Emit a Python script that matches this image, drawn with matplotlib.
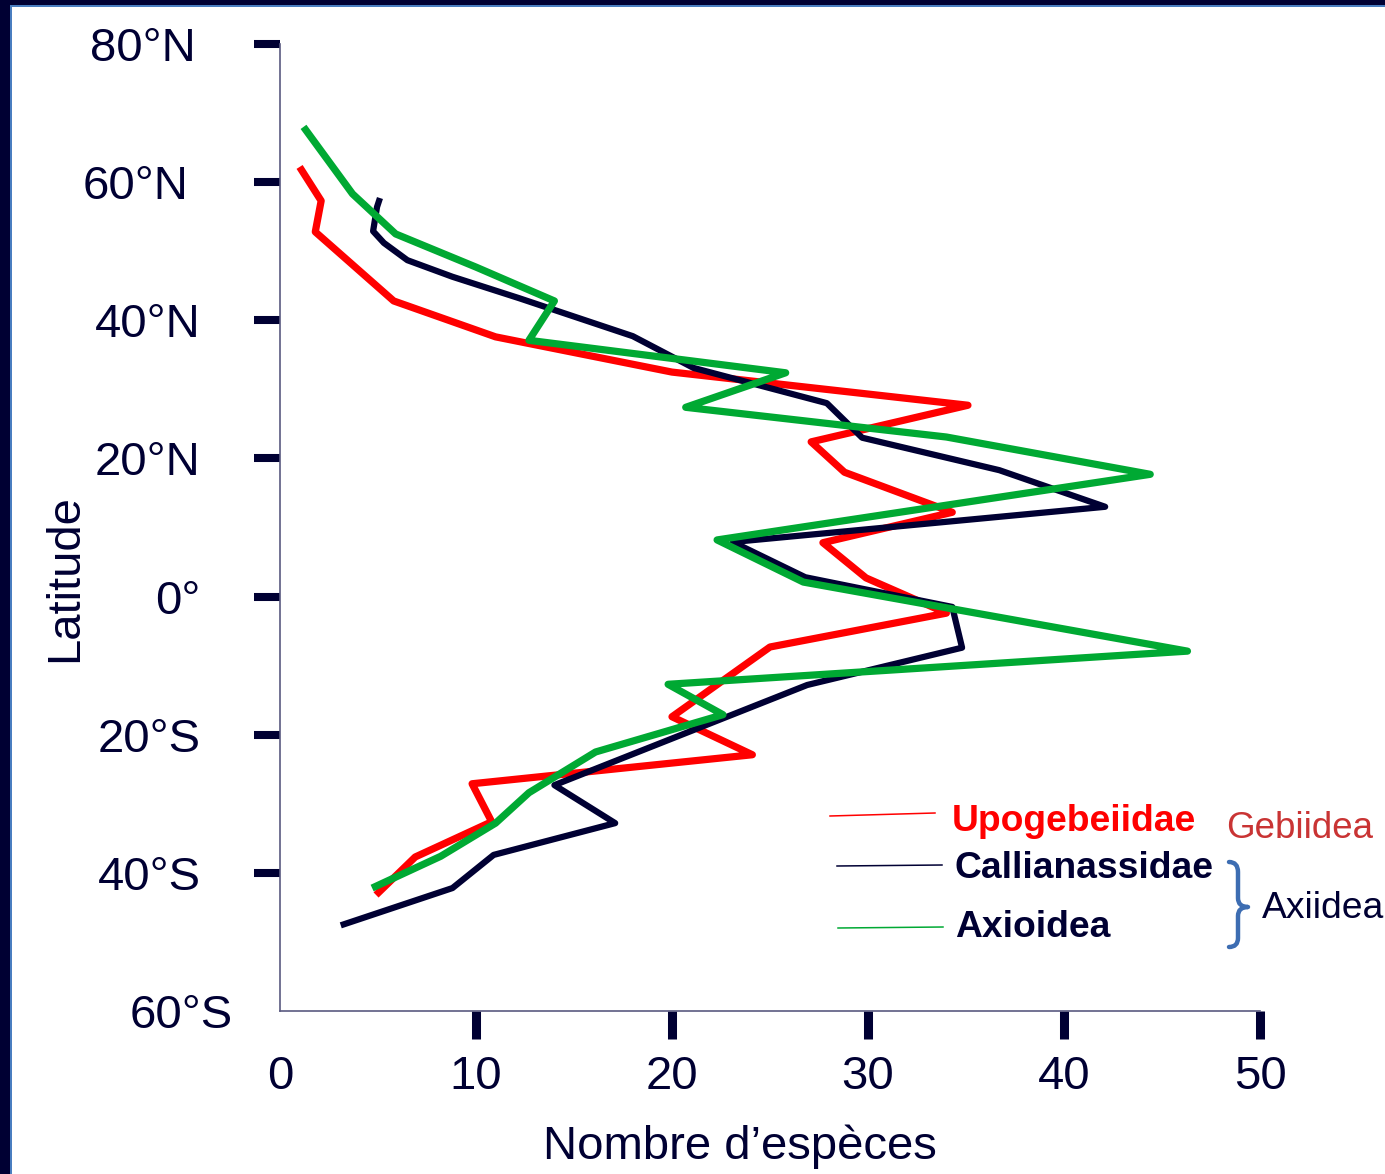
import matplotlib
matplotlib.use("Agg")
import matplotlib.pyplot as plt
from matplotlib.path import Path
from matplotlib.patches import PathPatch, Rectangle
from matplotlib.lines import Line2D
from matplotlib.transforms import ScaledTranslation

plt.rcParams['font.family'] = ['Liberation Sans', 'DejaVu Sans']

# Species counts per latitude band
upo_lat = [62.2, 57.3, 52.8, 42.8, 37.6, 32.5, 27.7, 22.4, 18.0, 12.2, 7.8, 2.7,
           -2.4, -7.3, -17.4, -22.9, -27.1, -32.6, -37.7, -43.2]
upo_n = [1.0, 2.1, 1.8, 5.8, 11.0, 20.0, 35.1, 27.1, 28.8, 34.3, 27.7, 29.9,
         34.0, 25.0, 20.0, 24.1, 9.8, 10.8, 6.9, 4.9]

cal_lat = [57.7, 56.4, 52.9, 51.2, 48.7, 46.3, 43.2, 37.7, 33.1, 28.0, 23.0, 18.3,
           13.0, 7.9, 2.8, -1.5, -7.4, -12.8, -27.3, -32.8, -37.4, -42.2, -47.6]
cal_n = [5.1, 4.95, 4.75, 5.3, 6.5, 8.8, 12.2, 18.0, 21.1, 27.9, 29.7, 36.7,
         42.1, 23.1, 26.8, 34.3, 34.8, 26.9, 14.0, 17.1, 10.9, 8.8, 3.1]

axi_lat = [68.0, 58.3, 52.5, 47.7, 42.8, 37.1, 32.4, 27.4, 23.1, 17.7, 8.2, 2.1,
           -7.9, -12.7, -17.1, -22.5, -28.4, -32.8, -37.6, -42.2]
axi_n = [1.2, 3.7, 5.9, 10.0, 14.0, 12.7, 25.8, 20.7, 34.0, 44.4, 22.3, 26.7,
         46.3, 19.8, 22.6, 16.1, 12.7, 11.0, 8.2, 4.7]

lat_ticks = [80, 60, 40, 20, 0, -20, -40, -60]
lat_labels = ['80°N', '60°N', '40°N', '20°N', '0°', '20°S', '40°S', '60°S']
count_ticks = [0, 10, 20, 30, 40, 50]

NAVY = '#000033'
RED = '#FF0000'
GREEN = '#00A933'

W, H = 1385, 1174
fig = plt.figure(figsize=(W / 100, H / 100), dpi=100)
fig.patch.set_facecolor('white')


def fx(x):
    return x / W


def fy(y):
    return 1 - y / H


ax = fig.add_axes([fx(280), fy(1011), 980 / W, 967 / H])
ax.set_xlim(0, 50)
ax.set_ylim(-60, 80)

ax.plot(upo_n, upo_lat, color=RED, lw=5.2, solid_joinstyle='round', solid_capstyle='butt', zorder=3)
ax.plot(cal_n, cal_lat, color=NAVY, lw=4.5, solid_joinstyle='round', solid_capstyle='butt', zorder=4)
ax.plot(axi_n, axi_lat, color=GREEN, lw=5.2, solid_joinstyle='round', solid_capstyle='butt', zorder=5)

for side in ('top', 'right'):
    ax.spines[side].set_visible(False)
for side in ('left', 'bottom'):
    ax.spines[side].set_color('#5a5a80')
    ax.spines[side].set_linewidth(1.2)

ax.set_yticks(lat_ticks, labels=lat_labels)
ax.set_xticks(count_ticks, labels=[str(v) for v in count_ticks])
ax.tick_params(axis='y', direction='out', length=19, width=5.8, color=NAVY,
               pad=38, labelsize=34, labelcolor=NAVY)
ax.tick_params(axis='x', direction='out', length=20, width=6.5, color=NAVY,
               pad=12, labelsize=34, labelcolor=NAVY)

# no tick marks at the origin of either axis
ax.yaxis.get_major_ticks()[-1].tick1line.set_visible(False)
ax.xaxis.get_major_ticks()[0].tick1line.set_visible(False)

# small nudges of individual latitude labels
nudges = {'80°N': -5, '60°N': -12, '60°S': 32}
for lab in ax.get_yticklabels():
    dx = nudges.get(lab.get_text(), 0)
    if dx:
        lab.set_transform(lab.get_transform() + ScaledTranslation(dx / 100, 0, fig.dpi_scale_trans))

ax.set_xlabel('Nombre d’espèces', fontsize=34, color=NAVY)
ax.xaxis.set_label_coords((740 - 280) / 980, (1011 - 1147) / 967)
ax.xaxis.label.set_va('center')
ax.set_ylabel('Latitude', fontsize=34, color=NAVY)
ax.yaxis.set_label_coords((65 - 280) / 980, (1011 - 578) / 967)
ax.yaxis.label.set_va('center')

# legend keys
for (x0, y0, x1, y1), c in [((830, 816, 935, 813), RED),
                            ((837, 866, 942, 865), NAVY),
                            ((838, 928, 943, 927), GREEN)]:
    fig.add_artist(Line2D([fx(x0), fx(x1)], [fy(y0), fy(y1)], color=c, lw=1.1,
                          transform=fig.transFigure))

fig.text(fx(952), fy(831), 'Upogebeiidae', color=RED, fontsize=26.8, fontweight='bold', va='baseline')
fig.text(fx(955), fy(878), 'Callianassidae', color=NAVY, fontsize=26.8, fontweight='bold', va='baseline')
fig.text(fx(955), fy(937), 'Axioidea', color=NAVY, fontsize=26.8, fontweight='bold', va='baseline')
fig.text(fx(1226), fy(838), 'Gebiidea', color='#C93434', fontsize=26.5, va='baseline')
fig.text(fx(1262), fy(918), 'Axiidea', color=NAVY, fontsize=26.8, va='baseline')

# curly brace grouping the two Axiidea families
brace_pts = [(1229, 862), (1238, 862), (1238, 872), (1238, 898), (1238, 907), (1248, 907),
             (1238, 907), (1238, 916), (1238, 938), (1238, 947), (1229, 947)]
brace_codes = [Path.MOVETO, Path.CURVE3, Path.CURVE3, Path.LINETO, Path.CURVE3, Path.CURVE3,
               Path.CURVE3, Path.CURVE3, Path.LINETO, Path.CURVE3, Path.CURVE3]
brace = Path([(fx(x), fy(y)) for x, y in brace_pts], brace_codes)
fig.add_artist(PathPatch(brace, fill=False, edgecolor='#3D6DB2', lw=3.2,
                         transform=fig.transFigure, capstyle='round', joinstyle='round'))

# slide frame along the left and top edges
fig.add_artist(Rectangle((0, 0), fx(10), 1, facecolor=NAVY, edgecolor='none', transform=fig.transFigure))
fig.add_artist(Rectangle((fx(10), 0), fx(1.5), 1, facecolor='#4A7EC0', edgecolor='none', transform=fig.transFigure))
fig.add_artist(Rectangle((0, fy(5.5)), 1, 5.5 / H, facecolor=NAVY, edgecolor='none', transform=fig.transFigure))
fig.add_artist(Rectangle((fx(10), fy(7)), 1, 1.5 / H, facecolor='#4A7EC0', edgecolor='none', transform=fig.transFigure))

fig.savefig('out.png', dpi=100, facecolor='white')
